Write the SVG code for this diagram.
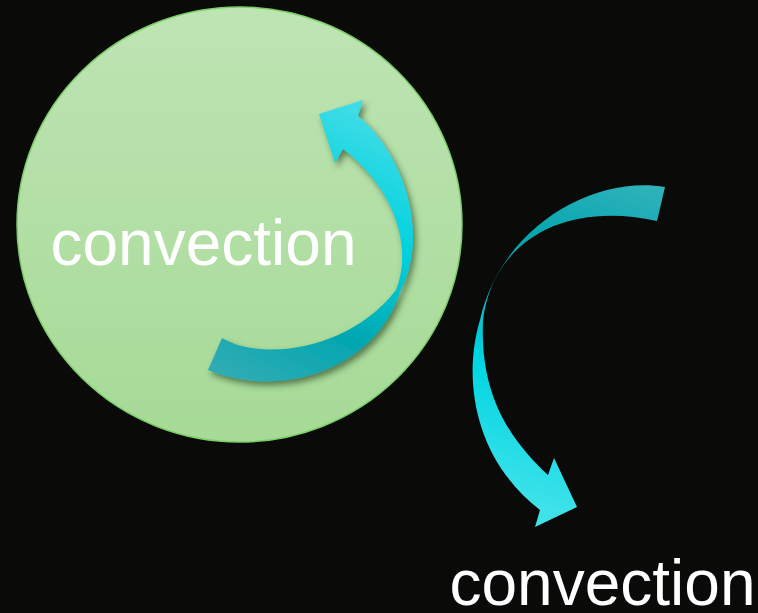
<svg xmlns="http://www.w3.org/2000/svg" width="758" height="613" viewBox="0 0 758 613">
  <style>
    .label { font-family: "Liberation Sans", Arial, sans-serif; font-size: 64px; fill: #ffffff; }
  </style>
  <defs>
    <linearGradient id="circFill" x1="0" y1="0" x2="0" y2="1">
      <stop offset="0" stop-color="#bee4b4"/>
      <stop offset="1" stop-color="#a6da96"/>
    </linearGradient>
    <linearGradient id="arrow1Fill" gradientUnits="userSpaceOnUse" x1="210" y1="365" x2="345" y2="105">
      <stop offset="0" stop-color="#2eacb4"/>
      <stop offset="0.3" stop-color="#02a6b0"/>
      <stop offset="0.65" stop-color="#00d2de"/>
      <stop offset="1" stop-color="#3edce6"/>
    </linearGradient>
    <linearGradient id="arrow2Fill" gradientUnits="userSpaceOnUse" x1="665" y1="190" x2="555" y2="515">
      <stop offset="0" stop-color="#30b2ba"/>
      <stop offset="0.25" stop-color="#04a6b0"/>
      <stop offset="0.65" stop-color="#00d6e2"/>
      <stop offset="1" stop-color="#40e2ea"/>
    </linearGradient>
    <filter id="shadow" x="-20%" y="-20%" width="140%" height="140%">
      <feDropShadow dx="3" dy="4" stdDeviation="3" flood-color="#2c4a22" flood-opacity="0.65"/>
    </filter>
  </defs>

  <rect x="0" y="0" width="758" height="613" fill="#0a0a09"/>

  <g id="node-circle">
    <ellipse cx="239.5" cy="224.5" rx="222.5" ry="217.5" fill="url(#circFill)" stroke="#7ccf68" stroke-width="1.5"/>
    <text class="label" x="50.5" y="265">convection</text>
  </g>

  <g id="connectors">
    <path id="arrow-inner" filter="url(#shadow)" fill="url(#arrow1Fill)"
      d="M 222,338 C 262,362 350,350 396,290 C 412,250 398,192 343,149 L 335,163 L 319,114 L 363,100 L 358,116 C 400,150 432,230 400,292 C 375,370 280,400 208,370 Z"/>
    <path id="arrow-outer" fill="url(#arrow2Fill)"
      d="M 665,187 C 590,175 500,230 480,320 C 462,380 475,460 540,510 L 535,527 L 577,507 L 554,458 L 548,475 C 505,435 480,390 483,320 C 492,245 560,200 657,221 Z"/>
  </g>

  <g id="node-bottom">
    <text class="label" x="449.5" y="605">convection</text>
  </g>
</svg>
